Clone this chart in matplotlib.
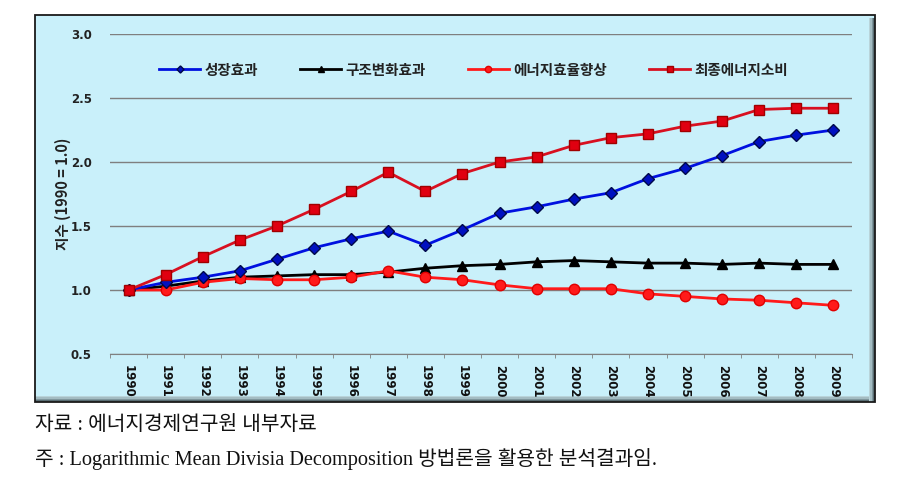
import matplotlib
matplotlib.use("Agg")
from matplotlib import pyplot as plt
from matplotlib.patches import Rectangle
import numpy as np

plt.rcParams['font.family'] = ['Noto Sans CJK KR', 'DejaVu Sans']

years = [str(y) for y in range(1990, 2010)]
growth = [1.00, 1.06, 1.10, 1.15, 1.24, 1.33, 1.40, 1.46, 1.35, 1.47,
          1.60, 1.65, 1.71, 1.76, 1.87, 1.95, 2.05, 2.16, 2.21, 2.25]
structure = [1.00, 1.03, 1.07, 1.10, 1.11, 1.12, 1.12, 1.14, 1.17, 1.19,
             1.20, 1.22, 1.23, 1.22, 1.21, 1.21, 1.20, 1.21, 1.20, 1.20]
efficiency = [1.00, 1.00, 1.06, 1.09, 1.08, 1.08, 1.10, 1.15, 1.10, 1.08,
              1.04, 1.01, 1.01, 1.01, 0.97, 0.95, 0.93, 0.92, 0.90, 0.88]
final_energy = [1.00, 1.12, 1.26, 1.39, 1.50, 1.63, 1.77, 1.92, 1.77, 1.91,
                2.00, 2.04, 2.13, 2.19, 2.22, 2.28, 2.32, 2.41, 2.42, 2.42]
series_names = ['성장효과', '구조변화효과', '에너지효율향상', '최종에너지소비']
yticks = [0.5, 1.0, 1.5, 2.0, 2.5, 3.0]

W, H = 923, 499
fig = plt.figure(figsize=(W / 100, H / 100), dpi=100)

# chart box with a light blue fill and a bevelled border
bx0, by0, bx1, by1 = 35 / W, 1 - 402 / H, 875 / W, 1 - 15 / H
fig.patches.append(Rectangle((bx0, by0), bx1 - bx0, by1 - by0, transform=fig.transFigure,
                             facecolor='#c9f0fa', edgecolor='none', zorder=0))
# bevel shadows on the right and bottom
for i, c in enumerate(['#5a6e74', '#7f969c', '#a3bcc2', '#b9d4da']):
    d = (i + 1) * 1.6
    fig.patches.append(Rectangle((bx1 - d / W, by0), 1.6 / W, by1 - by0 - 3 / H, transform=fig.transFigure,
                                 facecolor=c, edgecolor='none', zorder=0.5))
    fig.patches.append(Rectangle((bx0, by0 + (d - 1.6) / H), bx1 - bx0 - d / W, 1.6 / H,
                                 transform=fig.transFigure, facecolor=c, edgecolor='none', zorder=0.5))
fig.patches.append(Rectangle((bx0, by0), bx1 - bx0, by1 - by0, transform=fig.transFigure,
                             facecolor='none', edgecolor='#1a1a1a', lw=1.3, zorder=1))

ax = fig.add_axes([110 / W, 1 - 354 / H, 742 / W, 320 / H])
ax.set_zorder(2)
ax.set_facecolor('none')
x = np.arange(len(years))

ax.plot(x, growth, color='#0010e0', lw=2, marker='D', ms=6, mfc='#0010c0', mec='#00084a',
        label=series_names[0], zorder=4)
ax.plot(x, structure, color='black', lw=2, marker='^', ms=7.5, mfc='black', mec='black',
        label=series_names[1], zorder=3)
ax.plot(x, efficiency, color='#ff1a1a', lw=2, marker='o', ms=7.5, mfc='#ff1a1a', mec='#e00000',
        label=series_names[2], zorder=3)
ax.plot(x, final_energy, color='#d81020', lw=2, marker='s', ms=7, mfc='#e00010', mec='#a00000',
        label=series_names[3], zorder=5)

ax.set_xlim(-0.5, len(years) - 0.5)
ax.set_ylim(0.5, 3.0)
ax.set_yticks(yticks)
ax.set_yticklabels([f'{v:.1f}' for v in yticks], fontsize=8.5, fontweight='bold',
                   color='#222222', family=['DejaVu Sans'])
ax.set_xticks(x)
ax.set_xticklabels(years, rotation=-90, fontsize=8.5, fontweight='bold', color='#111111',
                   family=['DejaVu Sans'])
ax.set_xticks(np.arange(-0.5, len(years)), minor=True)
ax.tick_params(axis='x', which='major', length=0, pad=8)
ax.tick_params(axis='x', which='minor', length=3, color='#808080')
ax.tick_params(axis='y', length=0, pad=13)
ax.grid(axis='y', color='#7f7f7f', lw=1)
ax.set_axisbelow(True)
for s in ['top', 'right', 'left']:
    ax.spines[s].set_visible(False)
ax.spines['bottom'].set_color('#808080')
ax.set_ylabel('지수 (1990 = 1.0)', fontsize=10.5, fontweight='bold', color='#222222', labelpad=0)

leg = ax.legend(loc='upper center', bbox_to_anchor=(0.49, 0.955), ncol=4, frameon=False,
                prop={'size': 10.5, 'weight': 'bold'}, handlelength=2.8, columnspacing=2.9,
                handletextpad=0.3, markerscale=0.6)
for t in leg.get_texts():
    t.set_color('#222222')

foot_font = ['Liberation Serif', 'Noto Sans CJK KR']
fig.text(35 / W, 1 - 425 / H, '자료 : 에너지경제연구원 내부자료', fontsize=14.6, va='center',
         family=foot_font, color='#111111')
fig.text(35 / W, 1 - 459 / H, '주 : Logarithmic Mean Divisia Decomposition 방법론을 활용한 분석결과임.',
         fontsize=14.6, va='center', family=foot_font, color='#111111')

fig.savefig('out.png', dpi=100)
